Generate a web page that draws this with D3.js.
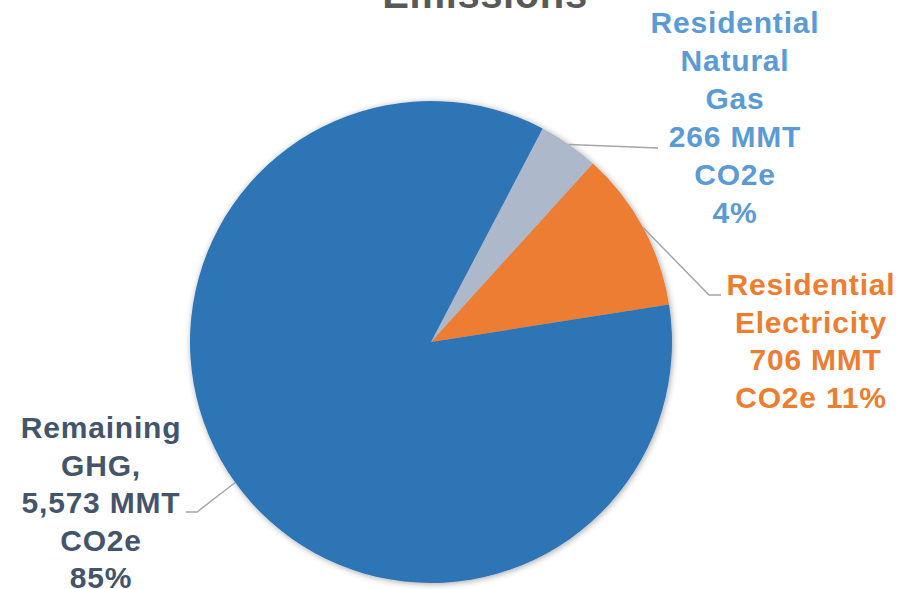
<!DOCTYPE html>
<html>
<head>
<meta charset="utf-8">
<script src="https://cdn.jsdelivr.net/npm/d3@7"></script>
<style>
  html, body { margin: 0; padding: 0; background: #fff; }
  svg { display: block; font-family: Arial, "Liberation Sans", sans-serif; font-weight: bold; }
</style>
</head>
<body>
<svg id="chart" width="910" height="589"></svg>
<script>
// Residential share of U.S. GHG emissions (MMT CO2e)
const categories = ["Residential Natural Gas", "Residential Electricity", "Remaining GHG"];
const values = [266, 706, 5573];
const percentLabels = ["4%", "11%", "85%"];
const labelLines = [
  ["Residential", "Natural", "Gas", "266 MMT", "CO2e", "4%"],
  ["Residential", "Electricity", "\u00a0706 MMT", "CO2e 11%"],
  ["Remaining", "GHG,", "5,573 MMT", "CO2e", "85%"]
];
const sliceColors = ["#ADB9CA", "#ED7D31", "#2E75B6"];
const labelColors = ["#5B9BD5", "#ED7D31", "#44546A"];

const svg = d3.select("#chart");
const cx = 431, cy = 342, radius = 241;

// Shadow around the pie
const defs = svg.append("defs");
const f = defs.append("filter").attr("id", "pieShadow")
  .attr("x", "-10%").attr("y", "-10%").attr("width", "120%").attr("height", "120%");
f.append("feDropShadow").attr("dx", 1).attr("dy", 1)
  .attr("stdDeviation", 3).attr("flood-color", "#000").attr("flood-opacity", 0.35);

// Chart title (its upper line sits above the visible area)
svg.append("text")
  .attr("x", 485).attr("y", 8)
  .attr("text-anchor", "middle")
  .attr("font-size", 40).attr("letter-spacing", 0.6)
  .attr("fill", "#595959")
  .text("Emissions");

const startDeg = 27.6;
const pie = d3.pie().sort(null).value(d => d)
  .startAngle(startDeg * Math.PI / 180)
  .endAngle(startDeg * Math.PI / 180 + 2 * Math.PI);
const arcs = pie(values);
const arc = d3.arc().innerRadius(0).outerRadius(radius);

const g = svg.append("g").attr("transform", `translate(${cx},${cy})`);
g.append("g").attr("filter", "url(#pieShadow)")
  .selectAll("path").data(arcs).join("path")
  .attr("d", arc)
  .attr("fill", (d, i) => sliceColors[i]);

// Leader lines: from slice edge at its mid-angle to the label
const edgePoint = d => {
  const a = (d.startAngle + d.endAngle) / 2;
  return [cx + radius * Math.sin(a), cy - radius * Math.cos(a)];
};
const leaderEnds = [
  [[658, 148]],
  [[709, 295], [721, 295]],
  [[197, 512], [186, 512]]
];
arcs.forEach((d, i) => {
  const pts = [edgePoint(d)].concat(leaderEnds[i]);
  svg.append("path")
    .attr("d", d3.line()(pts))
    .attr("fill", "none")
    .attr("stroke", "#A6A6A6")
    .attr("stroke-width", 1.5);
});

// Data labels
const labelPos = [
  { x: 735, y: 33, step: 38 },
  { x: 811, y: 295, step: 37.5 },
  { x: 101, y: 438, step: 37.5 }
];
labelLines.forEach((lines, i) => {
  const t = svg.append("text")
    .attr("text-anchor", "middle")
    .attr("font-size", 30)
    .attr("letter-spacing", 0.8)
    .attr("fill", labelColors[i]);
  lines.forEach((ln, j) => {
    t.append("tspan")
      .attr("x", labelPos[i].x)
      .attr("y", labelPos[i].y + j * labelPos[i].step)
      .text(ln);
  });
});
</script>
</body>
</html>
